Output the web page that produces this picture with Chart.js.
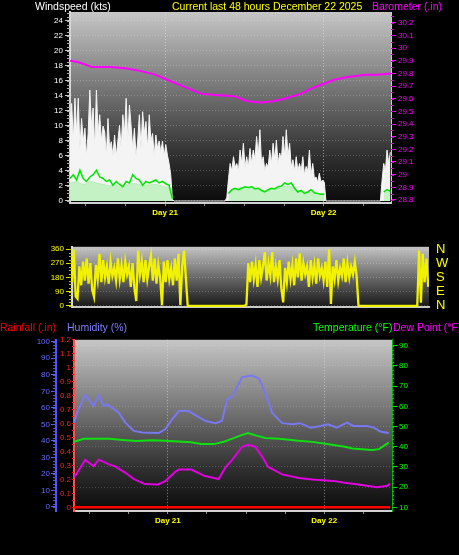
<!DOCTYPE html>
<html><head><meta charset="utf-8">
<script src="https://cdn.jsdelivr.net/npm/chart.js@4/dist/chart.umd.min.js"></script>
<style>
html,body{margin:0;padding:0;background:#000;width:459px;height:555px;overflow:hidden;font-family:"Liberation Sans",Arial,sans-serif;}
canvas{position:absolute;left:0}
.t{position:absolute;font-size:10.5px;white-space:nowrap;line-height:12px;z-index:2}
</style></head><body>
<div class="t" style="left:35px;top:0;color:#fff">Windspeed (kts)</div>
<div class="t" style="left:172px;top:0;color:#ffff00">Current last 48 hours December 22 2025</div>
<div class="t" style="left:372px;top:0;color:#ff00ff">Barometer (.in)</div>
<div class="t" style="left:0;top:321px;color:#ff0000">Rainfall (.in)</div>
<div class="t" style="left:67px;top:321px;color:#7f7fff">Humidity (%)</div>
<div class="t" style="left:313px;top:321px;color:#00ff00">Temperature (°F)</div>
<div class="t" style="left:393px;top:321px;color:#ff00ff">Dew Point (°F)</div>
<canvas id="c1" width="459" height="225" style="top:0"></canvas>
<canvas id="c2" width="459" height="90" style="top:232px"></canvas>
<canvas id="c3" width="459" height="222" style="top:333px"></canvas>
<script>
// ---------- DATA ----------
const xTickHours = [2.4, 8.4, 14.4, 20.4, 26.4, 32.4, 38.4, 44.4];
const dayTickHours = [14.4, 38.4];
const dayTickLabels = ['Day 21', 'Day 22'];

const windTicks = [0,2,4,6,8,10,12,14,16,18,20,22,24];
const baroTicks = [28.8,28.9,29.0,29.1,29.2,29.3,29.4,29.5,29.6,29.7,29.8,29.9,30.0,30.1,30.2];
const baroTickLabels = ['28.8','28.9','29','29.1','29.2','29.3','29.4','29.5','29.6','29.7','29.8','29.9','30','30.1','30.2'];
const dirTicks = [0,90,180,270,360];
const dirTickLabels = ['0','90','180','270','360'];
const compassLabels = ['N','E','S','W','N'];
const humTicks = [0,10,20,30,40,50,60,70,80,90,100];
const rainTicks = [0,0.1,0.2,0.3,0.4,0.5,0.6,0.7,0.8,0.9,1.0,1.1,1.2];
const rainTickLabels = ['0','0.1','0.2','0.3','0.4','0.5','0.6','0.7','0.8','0.9','1','1.1','1.2'];
const tempTicks = [10,20,30,40,50,60,70,80,90];

// wind gust (kts), one value every 0.25 h from hour 0
const gustStep = 0.25;
const windGust = [
 10,13,8,13.7,9,13.7,7,11,8,9.7, 6,9,14.8,10,12.4,7,14.8,9,11.5,8,
 10,9.2,6,11,7,7.9,6,8.8,6,8, 10.1,7,11.5,9,13.7,8,12.8,10,7,9.7,
 6,8,11.5,7,11.9,9,10.6,7,11.5,8, 9,6,8.8,7,8,6.5,8,6,7.5,6.1, 5,3.5,0.2,
 0,0,0,0,0,0,0,0,0,0,0,0,0,0,0,0,0,0,0,0,0,0,0,0,0,0,0,0,0,0,0,0,
 0.5,3,5,4,5.9,4.5,5,4,6.8,5, 7.7,4.5,5.9,4.5,7,5,6.8,5.5,8.6,6,
 9.5,5,5.9,4,5,4.5,6.8,5,7.7,5.5, 8.1,5,6.4,5.5,8.6,6,9.5,6,7.7,4.5,
 5.5,4,5.9,4,5,4,5.9,3.5,4.6,4, 6.8,3.5,5,3,3.2,2.5,3.7,2.5,2.8,2.5, 0,
 0,0,0,0,0,0,0,0,0,0,0,0,0,0,0,0,0,0,0,0,0,0,0,0,0,0,0,0,0,0,0,0,0,
 2.8,5,4,6.8,5,6.5
];
// average wind speed (kts), one value every 0.5 h
const speedStep = 0.5;
const windSpeed = [
 3.0,3.5,2.8,4.1,3.0,2.6,3.2,3.5,4.1,3.2,3.0,2.6,2.8,2.1,2.6,2.2,1.9,2.6,2.4,3.5,3.0,2.8,2.1,2.6,2.4,2.6,2.8,2.4,2.6,2.3,2.1,0.3,
 null,null,null,null,null,null,null,null,null,null,null,null,null,null,null,null,
 1.0,1.5,1.7,1.5,1.7,1.9,1.8,1.9,1.6,1.7,1.4,1.2,1.5,1.7,1.6,1.9,2.0,2.4,2.2,2.4,1.7,1.2,1.4,1.0,1.2,1.5,1.1,1.0,0.9,0.9,
 null,null,null,null,null,null,null,null,null,null,null,null,null,null,null,null,null,
 1.2,1.5,1.3
];
// sustained wind (kts), one value every 0.5 h
const windLow = [
 2.4,2.5,2.6,2.4,2.2,2.3,2.6,2.5,2.4,2.3,2.2,2.1,2.0,2.1,2.1,1.9,1.8,2.0,2.2,2.3,2.3,2.2,2.0,2.1,2.1,2.2,2.2,2.1,2.0,1.9,1.8,0.2,
 null,null,null,null,null,null,null,null,null,null,null,null,null,null,null,null,
 1.2,1.4,1.6,1.7,1.8,1.8,1.8,1.7,1.6,1.5,1.4,1.4,1.5,1.6,1.6,1.7,1.8,1.9,2.0,1.9,1.6,1.4,1.3,1.2,1.2,1.1,1.1,1.0,1.0,1.0,
 null,null,null,null,null,null,null,null,null,null,null,null,null,null,null,null,null,
 1.2,1.2,1.2
];
// barometer (in)
const baroHours = [0,1.2,2.3,3.3,6.1,8.4,10.6,12.9,14.7,17.5,19.8,22.0,24.8,26.9,28.9,30.7,32.4,35.0,36.5,38.0,40.0,41.8,43.3,44.8,46.4,48.6];
const baroVals  = [29.90,29.89,29.87,29.85,29.85,29.84,29.82,29.79,29.75,29.69,29.64,29.63,29.62,29.58,29.57,29.58,29.60,29.64,29.68,29.71,29.75,29.77,29.78,29.79,29.79,29.80];
// wind direction (deg), one value every 0.25 h
const dirStep = 0.25;
const windDir = [
 150,355,60,45,250,130,280,160,300,140, 270,100,57,260,170,330,150,290,180,250,
 140,280,190,240,160,300,170,260,150,280, 200,250,120,270,110,30,350,200,280,150,
 290,170,250,320,160,300,140,260,180,3, 280,150,290,170,240,130,300,160,330,3, 250,350,180,
 0,0,0,0,0,0,0,0,0,0,0,0,0,0,0,0,0,0,0,0,0,0,0,0,0,0,0,0,0,0,0,0,
 10,270,150,280,170,260,120,290,180,250, 340,160,270,190,340,150,250,170,290,110,
 21,240,150,280,170,260,130,300,180,332, 160,270,200,250,120,290,180,260,140,300,
 190,240,160,280,120,358,12,250,170,290, 160,240,190,300,150,270,180,250,200,280, 190,
 0,0,0,0,0,0,0,0,0,0,0,0,0,0,0,0,0,0,0,0,0,0,0,0,0,0,0,0,0,0,0,0,0,
 350,20,330,150,300,120
];
// humidity (%)
const humHours = [0,0.46,1.74,3.0,3.8,4.56,5.07,5.84,6.87,7.88,9.17,10.45,13.0,14.0,15.05,16.1,17.6,18.9,20.2,21.7,22.7,23.5,24.3,25.8,27.3,28.4,29.4,30.4,31.95,33.5,34.7,36.3,37.8,39.0,40.3,41.9,42.9,45.0,46.0,47.0,48.3];
const humVals  = [51,57,67.8,61,67.6,61,62,60,57,51,46,45,44.8,47,53,58,58,55,52,50.7,52,65,67,78.6,79.6,77.6,68.8,57,50.7,50,50.7,48,49,50,48,51,49,49,48,45.6,44.8];
// temperature (F)
const tempHours = [0,1.5,3,5.5,7.5,9.5,12,14,16,18,19.5,21.5,23,24.3,25.5,26.7,28,29.4,31.5,34.5,36.6,39.6,41.6,42.7,45.8,46.8,48.3];
const tempVals  = [42.4,43.9,43.9,43.9,43.3,42.8,43.2,43,42.6,42.2,41.4,41.3,42.5,44,45.5,46.8,45.5,44.3,44,43,42.4,41,40,39.1,38.4,38.8,42];
// dew point (F)
const dewHours = [0,0.46,1.74,3.0,3.8,5.3,6.3,7.9,9.2,10.9,12.9,14.0,15.5,16.1,18.0,20.1,22.2,23.2,24.3,25.8,26.7,27.8,28.9,29.8,31.95,34.5,36.6,39.8,41.3,43.9,46.5,48.1,48.5];
const dewVals  = [25,27,33.6,30.3,33.6,31.4,30.3,27.1,24,21.5,21.3,23,27.5,28.7,28.7,25.5,24,29.5,33.6,40,41,40,35,30,26.3,24.5,23.8,23.1,22.3,21.2,19.9,20.7,21.8];
// rainfall (in)
const rainHours = [0, 48.5];
const rainVals  = [0, 0];

// ---------- helpers ----------
const pts = (xs, ys) => xs.map((x, i) => ({x, y: ys[i]}));
const stepPts = (vals, step) => vals.map((v, i) => ({x: i * step, y: v}));
const fixTicks = arr => s => { s.ticks = arr.map(v => ({value: v})); };
const dayLabel = v => { const i = dayTickHours.indexOf(v); return i >= 0 ? dayTickLabels[i] : ''; };
const FONT = '"Liberation Sans", Arial, sans-serif';
Chart.defaults.font.family = FONT;
Chart.defaults.animation = false;
Chart.defaults.plugins.legend.display = false;
Chart.defaults.plugins.tooltip.enabled = false;

const bgGrad = {
  id: 'bgGrad',
  beforeDraw(chart, args, opts) {
    const {ctx, chartArea: a} = chart;
    const g = ctx.createLinearGradient(0, a.top, 0, a.bottom);
    opts.stops.forEach(([o, c]) => g.addColorStop(o, c));
    ctx.save(); ctx.fillStyle = g;
    ctx.fillRect(a.left, a.top, a.right - a.left, a.bottom - a.top);
    ctx.restore();
  }
};
const minorTicks = {
  id: 'minorTicks',
  afterDraw(chart, args, opts) {
    const ctx = chart.ctx;
    for (const id in opts) {
      const s = chart.scales[id]; const m = opts[id];
      if (!s || !m || !m.step) continue;
      ctx.save(); ctx.strokeStyle = m.color; ctx.lineWidth = 1;
      for (let v = m.from; v <= m.to + 1e-9; v += m.step) {
        const p = Math.round(s.getPixelForValue(v)) + 0.5;
        ctx.beginPath();
        if (s.position === 'left') { ctx.moveTo(s.right - m.len, p); ctx.lineTo(s.right, p); }
        else { ctx.moveTo(s.left, p); ctx.lineTo(s.left + m.len, p); }
        ctx.stroke();
      }
      ctx.restore();
    }
  }
};
const stopsA = [[0,'#c6c6c6'],[0.45,'#6c6c6c'],[0.75,'#303030'],[1,'#0a0a0a']];
const tickFont = {size: 8, family: FONT};
const xAxis = (max, h) => ({
  type: 'linear', min: 0, max: max,
  afterBuildTicks: fixTicks(xTickHours), afterFit: s => { s.height = h; },
  ticks: {callback: v => dayLabel(v), color: '#ffff00', font: {size: 8, weight: 'bold', family: FONT}, maxRotation: 0, autoSkip: false, padding: 2},
  grid: {color: c => (c.tick && dayTickHours.includes(c.tick.value)) ? 'rgba(230,230,230,0.55)' : 'rgba(0,0,0,0)', tickColor: '#909090', tickLength: 3, lineWidth: 1},
  border: {color: '#d0d0d0', width: 2, dash: [1, 2]}
});

// ---------- Panel 1: wind + barometer ----------
new Chart(document.getElementById('c1'), {
  type: 'line',
  data: {datasets: [
    {data: pts(baroHours, baroVals), yAxisID: 'yB', borderColor: '#ff00ff', borderWidth: 2, pointRadius: 0, fill: false, order: 0},
    {data: stepPts(windSpeed, speedStep), yAxisID: 'y', borderColor: '#00e600', borderWidth: 1.5, pointRadius: 0, fill: false, order: 1},
    {data: stepPts(windLow, speedStep), yAxisID: 'y', borderColor: '#b8eeb8', backgroundColor: '#c4f2c4', borderWidth: 1, pointRadius: 0, fill: 'origin', order: 2},
    {data: stepPts(windGust, gustStep), yAxisID: 'y', borderColor: '#f4f4f4', backgroundColor: '#f4f4f4', borderWidth: 1, pointRadius: 0, fill: 'origin', order: 3}
  ]},
  options: {
    responsive: false, layout: {padding: {top: 12, left: 0, right: 0, bottom: 0}},
    scales: {
      x: xAxis(48.6, 22),
      y: {position: 'left', min: -0.27, max: 25.2, afterBuildTicks: fixTicks(windTicks), afterFit: s => { s.width = 70; },
          ticks: {color: '#ffffff', font: tickFont, padding: 2, autoSkip: false},
          grid: {color: 'rgba(255,255,255,0.22)', tickColor: '#c8c8c8', tickLength: 5},
          border: {color: '#d8d8d8', width: 2, dash: [1, 2]}},
      yB: {position: 'right', min: 28.776, max: 30.285, afterBuildTicks: fixTicks(baroTicks), afterFit: s => { s.width = 68; },
          ticks: {color: '#ff00ff', font: tickFont, padding: 2, autoSkip: false, callback: (v, i) => baroTickLabels[i]},
          grid: {drawOnChartArea: false, tickColor: '#ff00ff', tickLength: 5},
          border: {color: '#e8b8e8', width: 1}}
    },
    plugins: {
      bgGrad: {stops: stopsA},
      minorTicks: {y: {from: 0, to: 25, step: 0.5, len: 3, color: '#b0b0b0'}, yB: {from: 28.8, to: 30.25, step: 0.05, len: 3, color: '#d000d0'}}
    }
  },
  plugins: [bgGrad, minorTicks]
});

// ---------- Panel 2: wind direction ----------
new Chart(document.getElementById('c2'), {
  type: 'line',
  data: {datasets: [
    {data: stepPts(windDir, dirStep), yAxisID: 'y', borderColor: '#f2f200', borderWidth: 2.3, pointRadius: 0, fill: false}
  ]},
  options: {
    responsive: false, layout: {padding: {top: 10, left: 0, right: 0, bottom: 0}},
    scales: {
      x: {type: 'linear', min: 0, max: 48.6, ticks: {display: false}, grid: {display: false, drawTicks: false},
          border: {color: '#c8c8c8', width: 2}, afterFit: s => { s.height = 8; }},
      y: {position: 'left', min: -9, max: 374, afterBuildTicks: fixTicks(dirTicks), afterFit: s => { s.width = 72; },
          ticks: {color: '#ffff00', font: tickFont, padding: 2, autoSkip: false, callback: (v, i) => dirTickLabels[i]},
          grid: {color: 'rgba(255,255,255,0.22)', tickColor: '#e0e000', tickLength: 6},
          border: {color: '#d8d8d8', width: 2, dash: [1, 2]}},
      y2: {position: 'right', min: -9, max: 374, afterBuildTicks: fixTicks(dirTicks), afterFit: s => { s.width = 30; },
          ticks: {color: '#ffff00', font: {size: 13, family: FONT}, padding: 7, autoSkip: false, callback: (v, i) => compassLabels[i]},
          grid: {display: false, drawTicks: false}, border: {display: false}}
    },
    plugins: {
      bgGrad: {stops: [[0,'#c4c4c4'],[0.5,'#6a6a6a'],[1,'#161616']]},
      minorTicks: {y: {from: 0, to: 360, step: 22.5, len: 3, color: '#c8c800'}}
    }
  },
  plugins: [bgGrad, minorTicks]
});

// ---------- Panel 3: rain, humidity, temperature, dew point ----------
new Chart(document.getElementById('c3'), {
  type: 'line',
  data: {datasets: [
    {data: pts(rainHours, rainVals), yAxisID: 'yR', borderColor: '#ff0000', borderWidth: 2.5, pointRadius: 0, fill: false},
    {data: pts(humHours, humVals), yAxisID: 'yH', borderColor: '#7878f0', borderWidth: 2, pointRadius: 0, fill: false},
    {data: pts(tempHours, tempVals), yAxisID: 'yT', borderColor: '#10e010', borderWidth: 2, pointRadius: 0, fill: false},
    {data: pts(dewHours, dewVals), yAxisID: 'yT', borderColor: '#e000e0', borderWidth: 2, pointRadius: 0, fill: false}
  ]},
  options: {
    responsive: false, layout: {padding: {top: 2, left: 0, right: 0, bottom: 0}},
    scales: {
      x: xAxis(48.8, 44),
      yR: {position: 'left', weight: 0, min: -0.026, max: 1.197, afterBuildTicks: fixTicks(rainTicks), afterFit: s => { s.width = 18; },
           ticks: {color: '#ff2020', font: tickFont, padding: 1, autoSkip: false, callback: (v, i) => rainTickLabels[i]},
           grid: {drawOnChartArea: false, tickColor: '#ff0000', tickLength: 2},
           border: {color: '#ff5050', width: 2, dash: [2, 2]}},
      yH: {position: 'left', weight: 1, min: -2.5, max: 101.2, afterBuildTicks: fixTicks(humTicks), afterFit: s => { s.width = 56; },
           ticks: {color: '#6a6aff', font: tickFont, padding: 1, autoSkip: false},
           grid: {drawOnChartArea: false, tickColor: '#6060ff', tickLength: 5},
           border: {color: '#5656ff', width: 2}},
      yT: {position: 'right', min: 8.2, max: 92.9, afterBuildTicks: fixTicks(tempTicks), afterFit: s => { s.width = 67; },
           ticks: {color: '#00ff00', font: tickFont, padding: 2, autoSkip: false},
           grid: {color: 'rgba(255,255,255,0.18)', tickColor: '#00e000', tickLength: 5},
           border: {color: '#00b000', width: 1, dash: [1, 2]}}
    },
    plugins: {
      bgGrad: {stops: stopsA},
      minorTicks: {yH: {from: 0, to: 100, step: 2, len: 3, color: '#5050ff'}, yR: {from: 0, to: 1.15, step: 0.05, len: 2, color: '#ff0000'}, yT: {from: 10, to: 90, step: 2, len: 2, color: '#00d000'}}
    }
  },
  plugins: [bgGrad, minorTicks]
});
</script>
</body></html>
